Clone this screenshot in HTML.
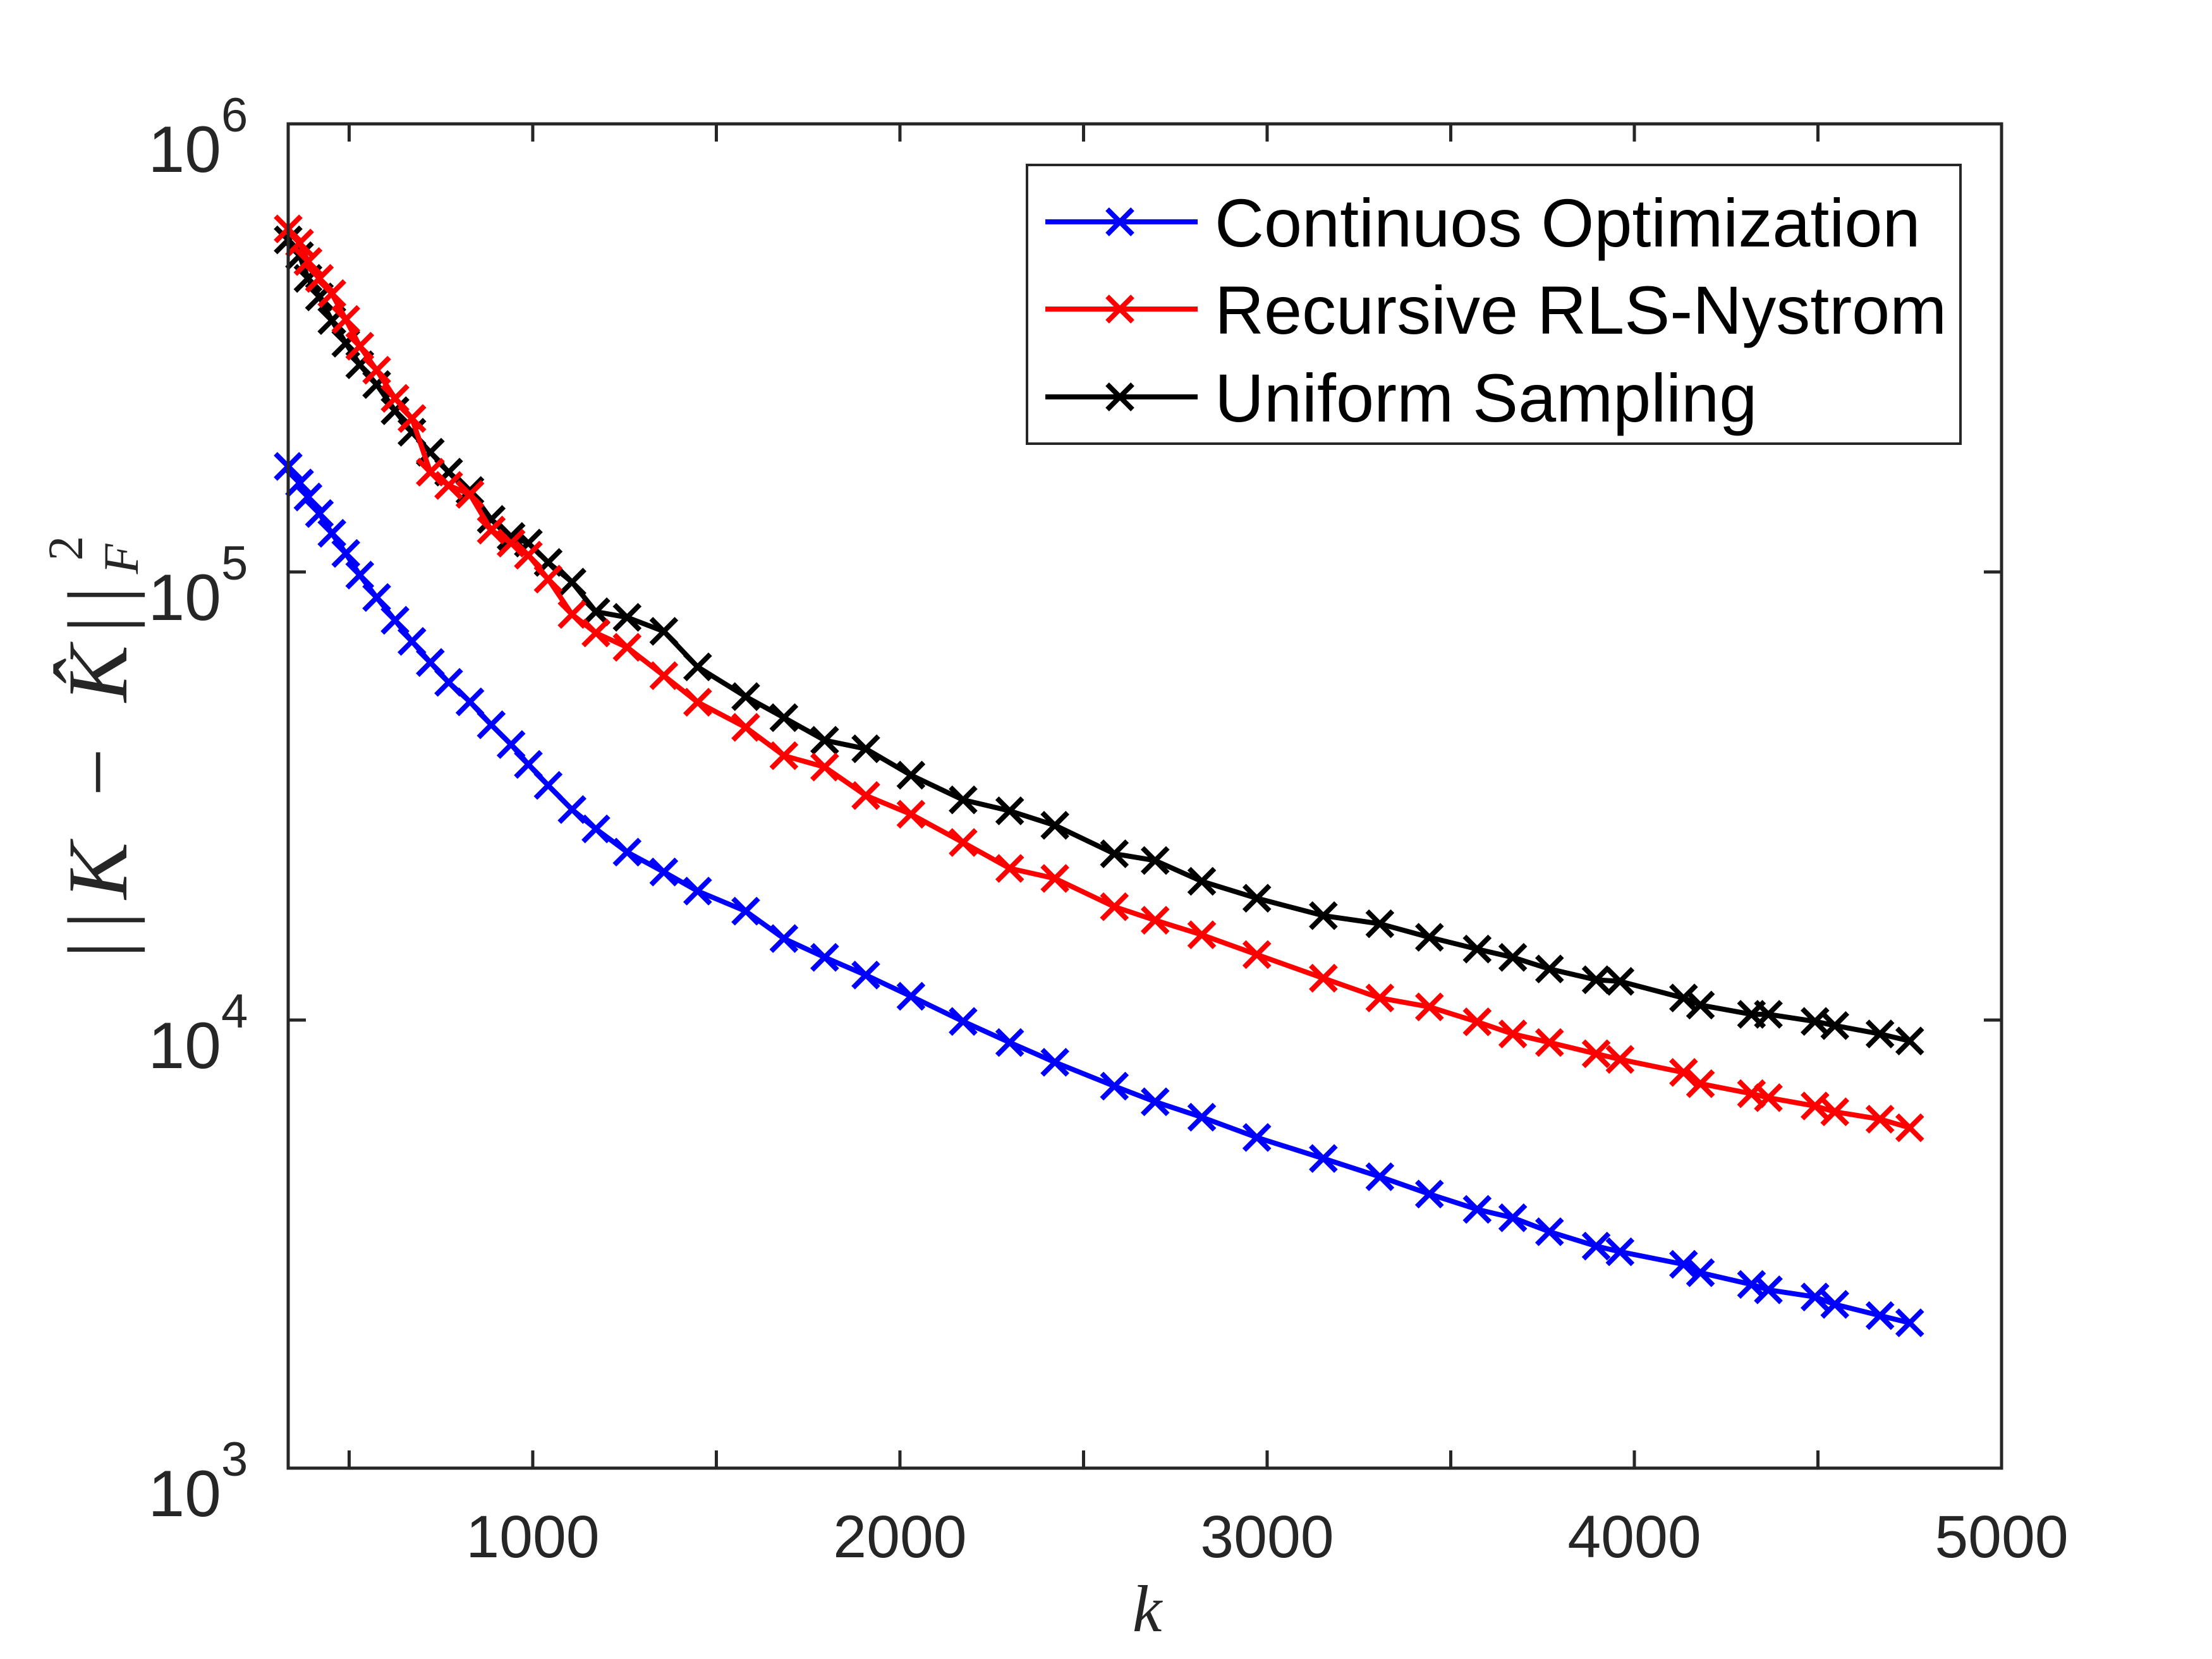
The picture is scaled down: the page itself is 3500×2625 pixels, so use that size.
<!DOCTYPE html>
<html><head><meta charset="utf-8"><style>
html,body{margin:0;padding:0;background:#fff;}
svg{display:block;}
</style></head><body>
<svg id="chart" width="3500" height="2625" viewBox="0 0 3500 2625" xmlns="http://www.w3.org/2000/svg">
<rect width="3500" height="2625" fill="#fff"/>
<g id="plot"></g>
<g id="axes"></g>
<text x="1815" y="2581" font-family="Liberation Serif, serif" font-style="italic" font-size="105" fill="#262626" text-anchor="middle">k</text>
<text transform="translate(200,1182) rotate(-90)" font-family="Liberation Serif, serif" font-style="italic" font-size="135" fill="#262626" text-anchor="middle" textLength="675" lengthAdjust="spacing"><tspan font-style="normal">||</tspan>K <tspan font-style="normal">−</tspan> K̂<tspan font-style="normal">||</tspan><tspan font-size="78" dy="18">F</tspan><tspan font-size="78" dx="-46" dy="-88" font-style="normal">2</tspan></text>
<g id="legend"></g>
</svg>
<script>
const kValues=[334,365,388,419,453,491,529,575,625,671,721,771,829,887,941,988,1042,1107,1172,1257,1357,1449,1580,1684,1795,1907,2030,2172,2299,2422,2584,2695,2822,2972,3153,3307,3442,3572,3669,3769,3896,3961,4134,4180,4319,4365,4492,4546,4669,4750];
const continuousValues=[172000,158000,147000,135000,122000,110000,98400,87700,78000,70000,62800,56700,51300,45600,41200,37200,33400,29500,26700,23700,21400,19400,17500,15200,13800,12600,11300,9930,8910,8050,7120,6570,6070,5470,4910,4470,4090,3780,3620,3370,3130,3040,2850,2730,2570,2500,2410,2320,2190,2110];
const recursiveValues=[583000,542000,493000,452000,418000,366000,319000,282000,244000,220000,167000,156000,149000,124000,116000,109000,96400,80400,73100,67900,58700,51200,45000,38900,36700,31700,28800,24900,21800,20700,17900,16700,15500,14000,12400,11200,10700,9910,9310,8910,8410,8170,7640,7210,6850,6710,6430,6240,6010,5750];
const uniformValues=[551000,508000,452000,411000,364000,324000,290000,262000,229000,205000,185000,167000,152000,131000,120000,116000,105000,94900,81500,79200,73700,61400,52700,47300,42100,40300,35200,31000,29300,27200,23500,22700,20400,18700,17100,16400,15300,14400,13800,13000,12300,12200,11200,10800,10300,10300,9930,9720,9310,8980];
const seriesNames=["Continuos Optimization","Recursive RLS-Nystrom","Uniform Sampling"];
const xTickValues=[500,1000,1500,2000,2500,3000,3500,4000,4500];
const xTickLabels=["1000","2000","3000","4000","5000"];
const yTickExponents=[3,4,5,6];

const NS="http://www.w3.org/2000/svg";
const L=456,R=3167,T=196,B=2323;
const XMIN=334,XMAX=5000,YMIN=3,YMAX=6;
function xs(v){return L+(v-XMIN)/(XMAX-XMIN)*(R-L);}
function ys(v){return B-(Math.log10(v)-YMIN)/(YMAX-YMIN)*(B-T);}
function mk(tag,attrs,parent){const e=document.createElementNS(NS,tag);for(const k in attrs)e.setAttribute(k,attrs[k]);parent.appendChild(e);return e;}
const plot=document.getElementById('plot'),axes=document.getElementById('axes'),legend=document.getElementById('legend');
const colors=["#0000ff","#ff0000","#000000"];
const all=[continuousValues,recursiveValues,uniformValues];
const sNames=["continuous-optimization","recursive-rls-nystrom","uniform-sampling"];
function cross(g,cx,cy,c){
  const s=20;
  return mk('path',{d:`M${cx-s},${cy-s}L${cx+s},${cy+s}M${cx-s},${cy+s}L${cx+s},${cy-s}`,stroke:c,'stroke-width':8,fill:'none'},g);
}
[2,1,0].forEach(si=>{
  const vals=all[si];
  const g=mk('g',{},plot);
  
  
  const d=vals.map((v,i)=>(i?'L':'M')+xs(kValues[i]).toFixed(1)+','+ys(v).toFixed(1)).join('');
  const line=mk('path',{d:d,stroke:colors[si],'stroke-width':8,fill:'none','stroke-linejoin':'round'},g);
  
  
  vals.forEach((v,i)=>{
    const m=cross(g,xs(kValues[i]),ys(v),colors[si]);
    
    
  });
});
const box=mk('rect',{x:L,y:T,width:R-L,height:B-T,fill:'none',stroke:'#262626','stroke-width':5},axes);


xTickValues.forEach(v=>{
  const x=xs(v);
  const t1=mk('line',{x1:x,y1:B,x2:x,y2:B-28,stroke:'#262626','stroke-width':5},axes);
  
  
  const t2=mk('line',{x1:x,y1:T,x2:x,y2:T+28,stroke:'#262626','stroke-width':5},axes);
  
  
});
xTickLabels.forEach(lab=>{
  const x=xs(+lab);
  const t=mk('text',{x:x,y:2464,'font-family':'Liberation Sans, sans-serif','font-size':95,fill:'#262626','text-anchor':'middle'},axes);
  t.textContent=lab;
  
  
});
yTickExponents.forEach(e=>{
  const y=ys(Math.pow(10,e));
  const a=mk('line',{x1:L,y1:y,x2:L+28,y2:y,stroke:'#262626','stroke-width':5},axes);
  
  
  const b=mk('line',{x1:R,y1:y,x2:R-28,y2:y,stroke:'#262626','stroke-width':5},axes);
  
  
  const t=mk('text',{x:350,y:y+76,'font-family':'Liberation Sans, sans-serif','font-size':104,fill:'#262626','text-anchor':'end'},axes);
  t.textContent='10';
  
  
  const s=mk('text',{x:350,y:y+12,'font-family':'Liberation Sans, sans-serif','font-size':76,fill:'#262626'},axes);
  s.textContent=String(e);
  
  
});
const lb=mk('rect',{x:1625,y:261,width:1477,height:441,fill:'#fff',stroke:'#262626','stroke-width':4},legend);


const rows=[351,489,628];
seriesNames.forEach((n,i)=>{
  const g=mk('g',{},legend);
  
  
  mk('line',{x1:1654,y1:rows[i],x2:1895,y2:rows[i],stroke:colors[i],'stroke-width':8},g);
  cross(g,1772,rows[i],colors[i]);
  const t=mk('text',{x:1922,y:rows[i]+39,'font-family':'Liberation Sans, sans-serif','font-size':108,fill:'#000'},g);
  t.textContent=n;
  
  
});
</script>
</body></html>
